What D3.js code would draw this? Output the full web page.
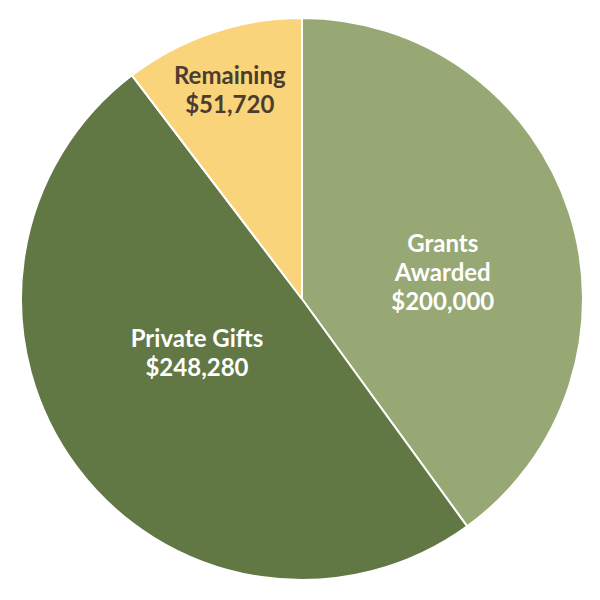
<!DOCTYPE html>
<html>
<head>
<meta charset="utf-8">
<script src="https://cdn.jsdelivr.net/npm/d3@7"></script>
<style>
  body { margin: 0; background: #fff; }
  text { font-family: Lato, "Open Sans", sans-serif; font-weight: bold; }
</style>
</head>
<body>
<svg width="600" height="600"></svg>
<script>
// data
var categories = ["Grants Awarded", "Private Gifts", "Remaining"];
var amounts = [200000, 248280, 51720];
var labelLines = [["Grants", "Awarded"], ["Private Gifts"], ["Remaining"]];

var colors = ["#97a874", "#617845", "#f9d47a"];
var textColors = ["#ffffff", "#ffffff", "#4b3c30"];
// where the label sits: fraction of radius, fraction of the slice's angle
var labelPos = [[0.51, 0.55], [0.42, 0.553], [0.79, 0.49]];

var svg = d3.select("svg"),
    cx = 302, cy = 299, r = 281;

var g = svg.append("g").attr("transform", "translate(" + cx + "," + cy + ")");

var data = categories.map(function (c, i) {
    return { name: c, value: amounts[i], i: i };
});

var pie = d3.pie().sort(null).value(function (d) { return d.value; });
var arc = d3.arc().innerRadius(0).outerRadius(r);
var arcs = pie(data);

g.selectAll("path")
    .data(arcs)
    .enter().append("path")
    .attr("d", arc)
    .attr("fill", function (d) { return colors[d.data.i]; })
    .attr("stroke", "#fff")
    .attr("stroke-width", 2)
    .attr("stroke-linejoin", "round");

var fmt = d3.format("$,");
var lineH = 29;

arcs.forEach(function (d) {
    var i = d.data.i;
    var a = d.startAngle + (d.endAngle - d.startAngle) * labelPos[i][1];
    var rr = r * labelPos[i][0];
    var x = Math.sin(a) * rr, y = -Math.cos(a) * rr;
    var lines = labelLines[i].concat([fmt(d.data.value)]);
    var t = g.append("text")
        .attr("text-anchor", "middle")
        .attr("fill", textColors[i])
        .attr("font-size", 24);
    lines.forEach(function (l, k) {
        t.append("tspan")
            .attr("x", x)
            .attr("y", y + (k - (lines.length - 1) / 2) * lineH + 9)
            .text(l);
    });
});
</script>
</body>
</html>
